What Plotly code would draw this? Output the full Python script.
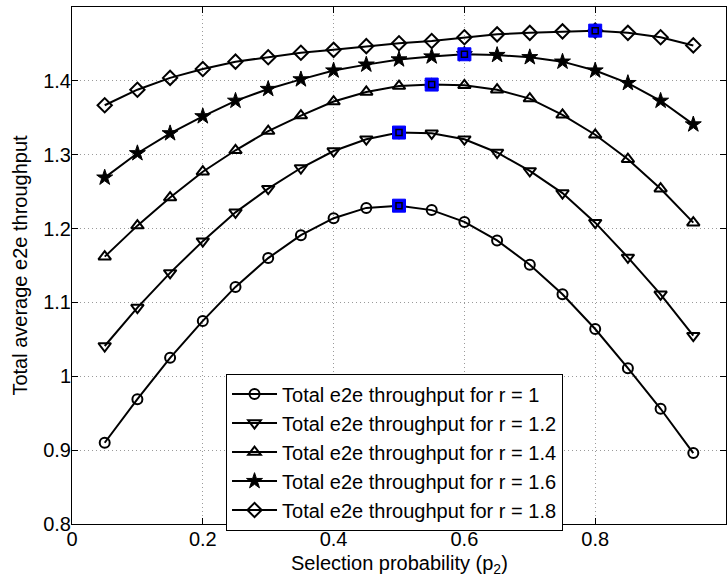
import plotly.graph_objects as go

p2 = [0.05, 0.10, 0.15, 0.20, 0.25, 0.30, 0.35, 0.40, 0.45, 0.50,
      0.55, 0.60, 0.65, 0.70, 0.75, 0.80, 0.85, 0.90, 0.95]

thr_r1_0 = [0.910, 0.969, 1.025, 1.075, 1.121, 1.160, 1.191, 1.214, 1.228, 1.231,
            1.225, 1.209, 1.184, 1.151, 1.111, 1.064, 1.011, 0.956, 0.896]
thr_r1_2 = [1.041, 1.093, 1.140, 1.183, 1.222, 1.254, 1.282, 1.305, 1.321, 1.330,
            1.329, 1.321, 1.303, 1.278, 1.248, 1.208, 1.161, 1.111, 1.055]
thr_r1_4 = [1.162, 1.204, 1.242, 1.277, 1.306, 1.332, 1.353, 1.372, 1.385, 1.393,
            1.395, 1.394, 1.388, 1.376, 1.354, 1.327, 1.294, 1.254, 1.208]
thr_r1_6 = [1.269, 1.302, 1.329, 1.352, 1.373, 1.389, 1.402, 1.414, 1.422, 1.429,
            1.433, 1.436, 1.435, 1.432, 1.426, 1.414, 1.397, 1.373, 1.341]
thr_r1_8 = [1.367, 1.388, 1.404, 1.416, 1.426, 1.432, 1.438, 1.442, 1.447, 1.451,
            1.454, 1.459, 1.463, 1.465, 1.467, 1.468, 1.465, 1.459, 1.448]

series_names = ["Total e2e throughput for r = 1",
                "Total e2e throughput for r = 1.2",
                "Total e2e throughput for r = 1.4",
                "Total e2e throughput for r = 1.6",
                "Total e2e throughput for r = 1.8"]
series_values = [thr_r1_0, thr_r1_2, thr_r1_4, thr_r1_6, thr_r1_8]
symbols = ["circle-open", "triangle-down-open", "triangle-up-open", "star", "diamond-open"]
sizes = [10, 11, 11, 12, 11]
mline = [2, 2, 2, 1, 2]

x_ticks = [0, 0.2, 0.4, 0.6, 0.8, 1]
x_tick_labels = ["0", "0.2", "0.4", "0.6", "0.8", "1"]
y_ticks = [0.8, 0.9, 1.0, 1.1, 1.2, 1.3, 1.4, 1.5]
y_tick_labels = ["0.8", "0.9", "1", "1.1", "1.2", "1.3", "1.4", "1.5"]

FONT = "Liberation Sans, Arial, Helvetica, sans-serif"

fig = go.Figure()
for name, vals, sym, sz, lw in zip(series_names, series_values, symbols, sizes, mline):
    fig.add_trace(go.Scatter(
        x=p2, y=vals, name=name, mode="lines+markers",
        line=dict(color="black", width=2),
        marker=dict(symbol=sym, size=sz, color="black",
                    line=dict(color="black", width=lw)),
    ))

# peak markers (blue squares)
peak_x, peak_y = [], []
for vals in series_values:
    i = max(range(len(vals)), key=lambda k: vals[k])
    peak_x.append(p2[i])
    peak_y.append(vals[i])
fig.add_trace(go.Scatter(
    x=peak_x, y=peak_y, mode="markers", showlegend=False,
    marker=dict(symbol="square", size=13, color="#0000FF",
                line=dict(color="#0000FF", width=1)),
))
fig.add_trace(go.Scatter(
    x=peak_x, y=peak_y, mode="markers", showlegend=False,
    marker=dict(symbol="square-open", size=6, color="black",
                line=dict(color="black", width=1.5)),
))

axis_common = dict(
    showline=True, linecolor="black", linewidth=1, mirror="ticks",
    ticks="inside", ticklen=6, tickwidth=1, tickcolor="black",
    showgrid=True, gridcolor="#9a9a9a", griddash="1px,3px", gridwidth=1,
    zeroline=False,
    tickfont=dict(family=FONT, size=20, color="black"),
)

fig.update_layout(
    width=728, height=585,
    margin=dict(l=72, r=2, t=7, b=61),
    paper_bgcolor="white", plot_bgcolor="white",
    font=dict(family=FONT, size=20, color="black"),
    xaxis=dict(range=[0, 1], tickvals=x_ticks, ticktext=x_tick_labels,
               ticklabelstandoff=-3, **axis_common),
    yaxis=dict(range=[0.8, 1.5], tickvals=y_ticks, ticktext=y_tick_labels,
               ticklabelstandoff=-4,
               title=dict(text="Total average e2e throughput",
                          font=dict(family=FONT, size=20), standoff=10),
               **axis_common),
    legend=dict(x=0.2355, y=0.291, xanchor="left", yanchor="top",
                bgcolor="white", bordercolor="black", borderwidth=1,
                font=dict(family=FONT, size=20, color="black"),
                tracegroupgap=0, itemwidth=45),
    annotations=[dict(text="Selection probability (p<sub>2</sub>)",
                      xref="paper", yref="paper", x=0.5, y=-0.0775,
                      xanchor="center", yanchor="middle", showarrow=False,
                      font=dict(family=FONT, size=20, color="black"))],
    showlegend=True,
)

fig.write_html("out.html")
